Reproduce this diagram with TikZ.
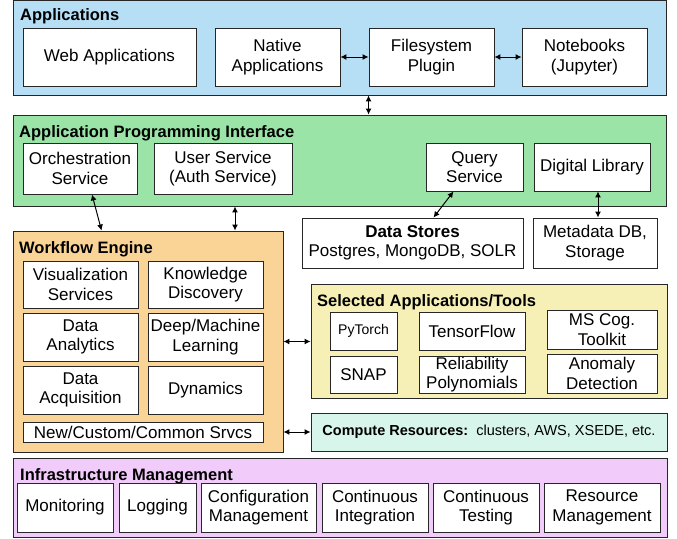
\documentclass[tikz,border=0pt]{standalone}
\usepackage{fontspec}
\setmainfont{Liberation Sans}
\usetikzlibrary{arrows.meta}

\definecolor{appblue}{RGB}{182,222,245}
\definecolor{apigreen}{RGB}{153,228,166}
\definecolor{wforange}{RGB}{250,211,150}
\definecolor{selyellow}{RGB}{246,240,182}
\definecolor{compcyan}{RGB}{216,245,236}
\definecolor{infrapink}{RGB}{241,203,250}

\tikzset{
  panel/.style={draw=black!85, line width=0.9pt, inner sep=0pt},
  box/.style={draw=black!85, fill=white, line width=0.9pt, align=center, inner sep=0pt, font=\fontsize{17}{19.5}\selectfont},
  title/.style={anchor=base west, inner sep=0pt, font=\fontsize{16.5}{19}\selectfont\bfseries},
  biarrow/.style={{Latex[length=6pt,width=6pt]}-{Latex[length=6pt,width=6pt]}, line width=1pt},
}

\begin{document}
\begin{tikzpicture}[x=1pt, y=-1pt]
	\def\pnl#1#2#3#4#5#6{\node[panel, fill=#6, minimum width={#4-#2}, minimum height={#5-#3}] (#1) at ({(#2+#4)/2},{(#3+#5)/2}) {};}
	\def\blk#1#2#3#4#5#6{\node[box, minimum width={#4-#2}, minimum height={#5-#3}] (#1) at ({(#2+#4)/2},{(#3+#5)/2}) {#6};}
	
	\useasboundingbox (0,0) rectangle (677,538);
	
	% layers
	\pnl{apps}{13}{0.5}{666}{95}{appblue}
	\pnl{api}{13}{115}{666}{206}{apigreen}
	\pnl{wf}{13}{231}{283}{452}{wforange}
	\pnl{sel}{311}{284}{667}{398}{selyellow}
	\pnl{infra}{13}{458}{667}{537}{infrapink}
	\node[panel, fill=compcyan, minimum width=356pt, minimum height=38pt, font=\fontsize{14.5}{17}\selectfont] (comp) at (489,432) {\textbf{Compute Resources:}\ \ clusters, AWS, XSEDE, etc.};
	
	\node[title] (appst) at (20,20) {Applications};
	\node[title] (apit) at (19,137) {Application Programming Interface};
	\node[title] (wft) at (19,253) {Workflow Engine};
	\node[title] (selt) at (317,306) {Selected Applications/Tools};
	\node[title] (infrat) at (20,480) {Infrastructure Management};
	
	% applications
	\blk{webapp}{23}{28}{196}{86}{Web Applications}
	\blk{native}{215}{28}{340}{86}{Native\\Applications}
	\blk{fs}{369}{28}{494}{86}{Filesystem\\Plugin}
	\blk{nb}{522}{28}{647}{86}{Notebooks\\(Jupyter)}
	
	% api
	\blk{orch}{23}{143}{137}{194}{Orchestration\\Service}
	\blk{user}{154}{143}{292}{194}{User Service\\(Auth Service)}
	\blk{query}{426}{143}{523}{191}{Query\\Service}
	\blk{diglib}{534}{143}{650}{191}{Digital Library}
	\blk{ds}{302}{218}{523}{268}{\textbf{Data Stores}\\Postgres, MongoDB, SOLR}
	\blk{meta}{533}{218}{657}{268}{Metadata DB,\\Storage}
	
	% workflow engine
	\blk{viz}{23}{261}{138}{308}{Visualization\\Services}
	\blk{know}{148}{261}{263}{308}{Knowledge\\Discovery}
	\blk{anal}{23}{313}{138}{361}{Data\\Analytics}
	\blk{dml}{148}{313}{263}{361}{Deep/Machine\\Learning}
	\blk{acq}{23}{366}{138}{414}{Data\\Acquisition}
	\blk{dyn}{148}{366}{263}{414}{Dynamics}
	\blk{srvcs}{23}{422}{263}{442}{New/Custom/Common Srvcs}
	
	% selected tools
	\blk{pyt}{330}{312}{397}{350}{\fontsize{14}{17}\selectfont PyTorch}
	\blk{tf}{419}{312}{525}{350}{TensorFlow}
	\blk{ms}{547}{310}{657}{349}{MS Cog.\\Toolkit}
	\blk{snap}{330}{356}{397}{393}{SNAP}
	\blk{rel}{419}{356}{525}{393}{Reliability\\Polynomials}
	\blk{anom}{547}{354}{657}{393}{Anomaly\\Detection}
	
	% infrastructure
	\blk{mon}{17}{483}{113}{532}{Monitoring}
	\blk{log}{119}{483}{196}{532}{Logging}
	\blk{conf}{201}{483}{316}{532}{Configuration\\Management}
	\blk{ci}{322}{483}{428}{532}{Continuous\\Integration}
	\blk{ct}{433}{483}{539}{532}{Continuous\\Testing}
	\blk{rm}{544}{483}{660}{532}{Resource\\Management}
	
	% connectors
	\draw [biarrow] (native.east) -- (fs.west);
	\draw [biarrow] (fs.east) -- (nb.west);
	\draw [biarrow] (fs.west |- apps.south) -- (fs.west |- api.north);
	\draw [biarrow] ([xshift=12pt]orch.south) -- ([xshift=89pt]wf.north west);
	\draw [biarrow] ([xshift=12pt]user.south |- api.south) -- ([xshift=12pt]user.south |- wf.north);
	\draw [biarrow] ([xshift=-21pt]query.south) -- ([xshift=21pt]ds.north);
	\draw [biarrow] ([xshift=6pt]diglib.south) -- ([xshift=6pt]diglib.south |- meta.north);
	\draw [biarrow] (wf.east) -- (wf.east -| sel.west);
	\draw [biarrow] (srvcs.east -| wf.east) -- (srvcs.east -| comp.west);
\end{tikzpicture}
\end{document}
